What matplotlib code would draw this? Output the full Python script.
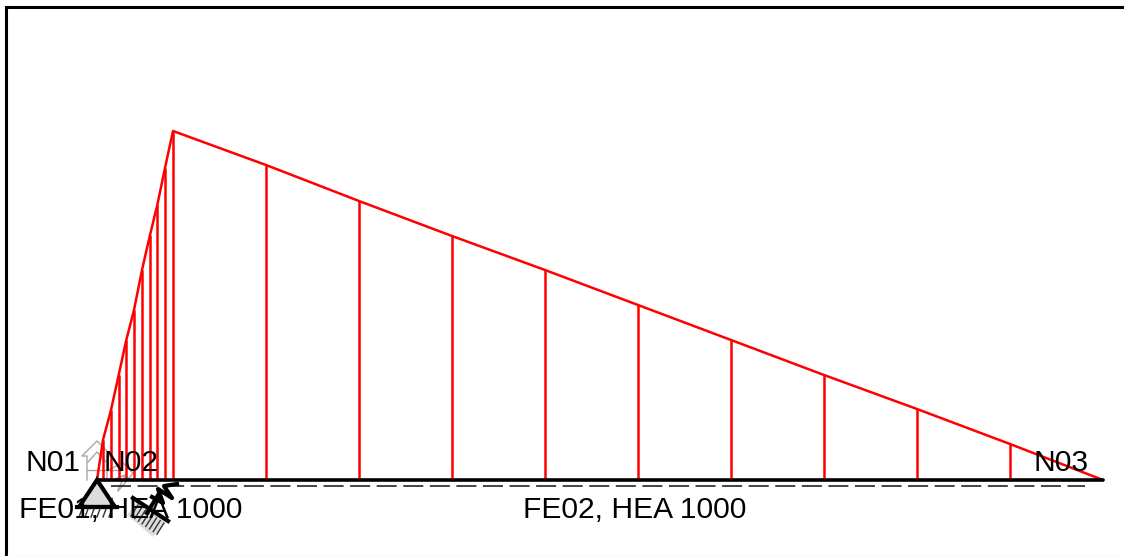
import matplotlib
matplotlib.use("Agg")
import matplotlib.pyplot as plt
from matplotlib.patches import Polygon

# diagram, in screen pixels from the baseline
stations_fe01 = [97, 103, 111, 118.7, 126.3, 134, 142, 150, 157.3, 165, 173]
values_fe01 = [0, 40, 70, 105, 140, 170, 210, 245, 275, 312, 349]
stations_fe02 = [173, 266, 359, 452, 545, 638, 731, 824, 917, 1010, 1103]
values_fe02 = [349, 315, 279, 244, 210, 175, 140, 105, 71, 36, 0]

node_names = ["N01", "N02", "N03"]
node_label_x = [26, 104, 1033]
element_names = ["FE01, HEA 1000", "FE02, HEA 1000"]
element_label_x = [19, 523]

BASE_Y = 480
RED = "#ff0000"
BLACK = "#000000"

plt.rcParams["font.family"] = ["Liberation Sans", "DejaVu Sans"]

fig = plt.figure(figsize=(11.24, 5.56), dpi=100)
ax = fig.add_axes([0, 0, 1, 1])
ax.set_xlim(0, 1124)
ax.set_ylim(556, 0)
ax.axis("off")

# frame
ax.plot([5.5, 5.5, 1124], [556, 6.5, 6.5], color=BLACK, lw=2.2, solid_joinstyle="miter", zorder=1)
ax.plot([7, 1124], [555.5, 555.5], color="#e8e8e8", lw=1, zorder=1)
ax.plot([151.5, 152], [40, 40], color="#a04040", lw=0.8, zorder=1)

# ghost arrows behind the first node
grey = "#a8a8a8"
ax.plot([87, 87, 82, 97, 112, 107, 107], [480, 456, 456, 441, 456, 456, 480], color=grey, lw=1, zorder=2)
ax.plot([88, 97, 106], [462, 452, 462], color=grey, lw=1, zorder=2)
ax.plot([87, 122], [470, 470], color=grey, lw=1, zorder=2)
ax.plot([108, 123, 133, 125, 118], [470, 463, 473, 483, 491], color=grey, lw=1, zorder=2)
ax.plot([113, 125, 118], [480, 475, 490], color=grey, lw=1, zorder=2)

# dashed line under the beam
dash_lw = 1.1
dash_px = dash_lw * 100 / 72
ax.plot([110.7, 1085], [486, 486], color="#111111", lw=dash_lw, dashes=(20 / dash_px, 6.57 / dash_px), zorder=3)

# moment diagram
xs = stations_fe01 + stations_fe02[1:]
vals = values_fe01 + values_fe02[1:]
tops = [BASE_Y - v for v in vals]
ax.plot(xs, tops, color=RED, lw=1.8, zorder=4)
ax.vlines(xs[1:-1], tops[1:-1], BASE_Y, color=RED, lw=1.8, zorder=4)

# beam
ax.plot([97, 1103], [BASE_Y, BASE_Y], color=BLACK, lw=2.6, solid_capstyle="round", zorder=5)

# fixed support
ax.add_patch(Polygon([(97, 480), (79, 507), (115, 507)], closed=True, fc="#dcdcdc", ec=BLACK, lw=3, zorder=5))
ax.plot([77, 117], [507, 507], color=BLACK, lw=3, zorder=5)
for hx in range(82, 116, 6):
    ax.plot([hx, hx - 3], [509, 517], color="#333333", lw=1, zorder=5)

# sliding support with spring
ax.add_patch(Polygon([(138, 501), (166, 522), (153, 537), (127, 515)], closed=True, fc="#dddddd", ec="none", zorder=4))
for i in range(8):
    ax.plot([138 + 3.7 * i, 131 + 3.7 * i], [505 + 2.6 * i, 516 + 2.6 * i], color="#333333", lw=1, zorder=5)
ax.plot([133, 168], [498, 521], color=BLACK, lw=3, zorder=5)
ax.plot([160, 147], [492, 513], color=BLACK, lw=3, zorder=5)
ax.plot([177, 164, 172, 158, 163, 152], [484, 486, 498, 489, 503, 497], color=BLACK, lw=3, zorder=5)

# labels
for name, lx in zip(node_names, node_label_x):
    ax.text(lx, 471, name, fontsize=21.6, ha="left", va="baseline", color=BLACK, zorder=6)
for name, lx in zip(element_names, element_label_x):
    ax.text(lx, 518, name, fontsize=21.6, ha="left", va="baseline", color=BLACK, zorder=6)

fig.savefig("out.png", dpi=100)
